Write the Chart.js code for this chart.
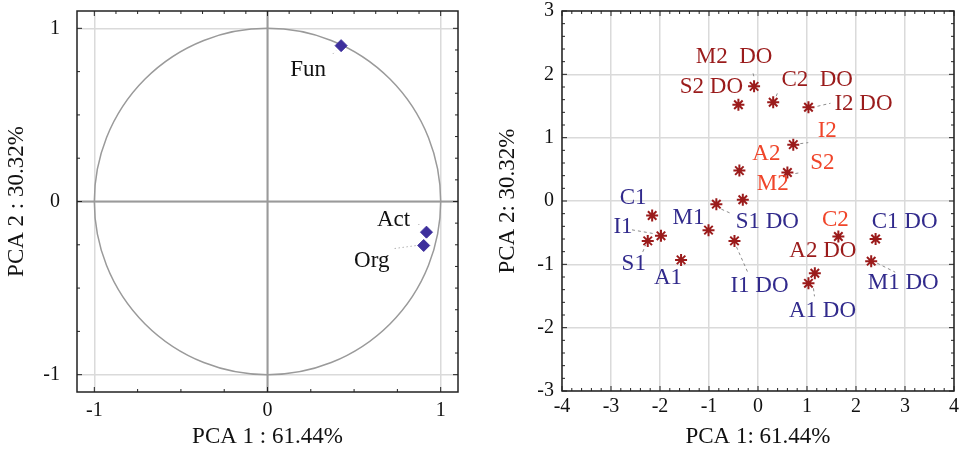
<!DOCTYPE html>
<html>
<head>
<meta charset="utf-8">
<script src="https://cdn.jsdelivr.net/npm/chart.js@4.4.1/dist/chart.umd.min.js"></script>
<style>
  html, body { margin: 0; padding: 0; background: #fff; }
  #left { position: absolute; left: 0; top: 0; width: 480px; height: 449px; }
  #right { position: absolute; left: 480px; top: 0; width: 484px; height: 449px; }
</style>
</head>
<body>
<div id="left"><canvas id="loadings"></canvas></div>
<div id="right"><canvas id="scores"></canvas></div>
<script>
// ---- loadings (left panel)
const loadingNames = ["Fun", "Act", "Org"];
const loadingPC1 = [0.425, 0.918, 0.902];
const loadingPC2 = [0.90, -0.177, -0.254];
const loadingTicks = [-1, 0, 1];

// ---- scores (right panel)
const sampleNames = [
  "M2  DO", "S2 DO", "C2  DO", "I2 DO", "I2", "A2", "S2", "M2", "S1 DO", "C1",
  "I1", "S1", "M1", "A1", "I1 DO", "C2", "C1 DO", "M1 DO", "A2 DO", "A1 DO"
];
const scorePC1 = [
  -0.08, -0.40, 0.31, 1.03, 0.72, -0.38, 0.60, -0.31, -0.85, -2.16,
  -1.98, -2.25, -1.01, -1.57, -0.48, 1.64, 2.40, 2.31, 1.16, 1.03
];
const scorePC2 = [
  1.81, 1.52, 1.56, 1.48, 0.89, 0.48, 0.45, 0.02, -0.05, -0.23,
  -0.55, -0.63, -0.46, -0.93, -0.63, -0.56, -0.60, -0.95, -1.14, -1.30
];
const sampleGroup = [
  "2DO", "2DO", "2DO", "2DO", "2", "2", "2", "2", "1", "1",
  "1", "1", "1", "1", "1", "2", "1", "1", "2DO", "1"
];
const scoreTicksX = [-4, -3, -2, -1, 0, 1, 2, 3, 4];
const scoreTicksY = [-3, -2, -1, 0, 1, 2, 3];

// ---- label placement (pixel offsets from the point) and leader lines
const loadingLabelOffset = [[-33, 24], [-33, -12], [-52, 15]];
const loadingLeader = [[-8, 8, -5, 5], [-8, -8, -6, -6], [-29, 3, -7, 0]];

const scoreLabelOffset = [
  [-20, -29], [-27, -18], [44, -22], [55, -3], [34, -14], [27, -17], [35, -10], [30, -16], [51, 18], [-19, -18],
  [-38, -9], [-14, 23], [-20, -12], [-13, 18], [25, 45], [-3, -17], [29, -17], [32, 22], [8, -22], [14, 28]
];
const scoreLeader = [
  [-1, -13, 0, -9], null, [3, -6, 5, -11], [9, -1, 22, -4], [7, -1, 15, -2], null, [8, 1, 14, 0], null, [5, 5, 14, 9], null,
  [-29, -6, -6, -2], [-5, 11, -2, 4], null, null, [2, 6, 14, 33], null, null, [6, 2, 24, 11], null, [5, 5, 6, 13]
];

const groupColor = { "1": "#312a8c", "2": "#f0452a", "2DO": "#9a1b1b" };
const SERIF = '"Liberation Serif", "Times New Roman", serif';
const INK = "#111";

// frame, inward ticks, reference circle, labels
const pcaDecor = {
  id: "pcaDecor",
  beforeDatasetsDraw(chart, args, opts) {
    if (!opts.circle) return;
    const { ctx, chartArea: a, scales: { x, y } } = chart;
    ctx.save();
    ctx.strokeStyle = "#9a9a9a";
    ctx.lineWidth = 2;
    ctx.beginPath();
    ctx.moveTo(x.getPixelForValue(0), a.top);
    ctx.lineTo(x.getPixelForValue(0), a.bottom);
    ctx.moveTo(a.left, y.getPixelForValue(0));
    ctx.lineTo(a.right, y.getPixelForValue(0));
    ctx.stroke();
    ctx.lineWidth = 1.5;
    ctx.beginPath();
    ctx.ellipse(x.getPixelForValue(0), y.getPixelForValue(0),
      x.getPixelForValue(1) - x.getPixelForValue(0),
      y.getPixelForValue(0) - y.getPixelForValue(1), 0, 0, Math.PI * 2);
    ctx.stroke();
    ctx.restore();
  },
  afterDatasetsDraw(chart, args, opts) {
    const { ctx, chartArea: a, scales: { x, y } } = chart;
    const meta = chart.getDatasetMeta(0);
    ctx.save();
    // leaders
    ctx.strokeStyle = "#8c8c8c";
    ctx.lineWidth = 1;
    ctx.setLineDash(opts.dash);
    meta.data.forEach((pt, i) => {
      const l = opts.leaders[i];
      if (!l) return;
      ctx.beginPath();
      ctx.moveTo(pt.x + l[0], pt.y + l[1]);
      ctx.lineTo(pt.x + l[2], pt.y + l[3]);
      ctx.stroke();
    });
    ctx.setLineDash([]);
    // labels
    ctx.font = "23px " + SERIF;
    ctx.textAlign = "center";
    ctx.textBaseline = "middle";
    meta.data.forEach((pt, i) => {
      ctx.fillStyle = opts.colors[i];
      ctx.fillText(opts.names[i], pt.x + opts.offsets[i][0], pt.y + opts.offsets[i][1]);
    });
    // frame
    ctx.strokeStyle = "#222";
    ctx.lineWidth = 1.5;
    ctx.strokeRect(a.left, a.top, a.right - a.left, a.bottom - a.top);
    // inward ticks
    ctx.lineWidth = 1;
    const sides = opts.minor;
    const tickRun = (scale, step, major, draw) => {
      const i0 = Math.ceil(scale.min / step - 1e-9), i1 = Math.floor(scale.max / step + 1e-9);
      for (let i = i0; i <= i1; i++) {
        const v = i * step;
        const isMajor = major.some(m => Math.abs(m - v) < 1e-9);
        draw(scale.getPixelForValue(v), isMajor ? 5 : 3);
      }
    };
    ctx.beginPath();
    tickRun(x, sides.bottom, opts.majorX, (p, len) => { ctx.moveTo(p, a.bottom); ctx.lineTo(p, a.bottom - len); });
    tickRun(x, sides.top, opts.majorX, (p, len) => { ctx.moveTo(p, a.top); ctx.lineTo(p, a.top + len); });
    tickRun(y, sides.left, opts.majorY, (p, len) => { ctx.moveTo(a.left, p); ctx.lineTo(a.left + len, p); });
    tickRun(y, sides.right, opts.majorY, (p, len) => { ctx.moveTo(a.right, p); ctx.lineTo(a.right - len, p); });
    ctx.stroke();
    ctx.restore();
  }
};

function axis(min, max, tickValues, fitSize, tickPad, titleText, titlePad) {
  return {
    type: "linear",
    min: min,
    max: max,
    afterBuildTicks: (s) => { s.ticks = tickValues.map(v => ({ value: v })); },
    afterFit: (s) => {
      if (s.isHorizontal()) s.height = fitSize; else s.width = fitSize;
      s.paddingTop = 0; s.paddingBottom = 0; s.paddingLeft = 0; s.paddingRight = 0;
    },
    grid: { color: "#dadada", lineWidth: 1.5, drawTicks: false },
    border: { display: false },
    ticks: { padding: tickPad, color: INK, font: { family: SERIF, size: 20, lineHeight: 1.2 } },
    title: {
      display: true,
      text: titleText,
      color: INK,
      padding: titlePad,
      font: { family: SERIF, size: 23, lineHeight: 1.2 }
    }
  };
}

new Chart(document.getElementById("loadings"), {
  type: "scatter",
  data: {
    datasets: [{
      data: loadingPC1.map((v, i) => ({ x: v, y: loadingPC2[i] })),
      pointStyle: "rectRot",
      pointRadius: 6,
      backgroundColor: "#3d2f9c",
      borderColor: "#3d2f9c",
      borderWidth: 1
    }]
  },
  options: {
    responsive: true,
    maintainAspectRatio: false,
    animation: false,
    layout: { padding: { top: 11, right: 22, left: 0, bottom: 0 } },
    scales: {
      x: axis(-1.1, 1.1, loadingTicks, 57, 7, "PCA 1 : 61.44%", { top: 0, bottom: -2 }),
      y: axis(-1.1, 1.1, loadingTicks, 77, 17, "PCA 2 : 30.32%", { top: 3, bottom: 0 })
    },
    plugins: {
      legend: { display: false },
      tooltip: { enabled: false },
      pcaDecor: {
        circle: true,
        names: loadingNames,
        offsets: loadingLabelOffset,
        leaders: loadingLeader,
        dash: [1, 3],
        colors: loadingNames.map(() => INK),
        minor: { bottom: 0.25, top: 0.125, left: 0.25, right: 0.125 },
        majorX: loadingTicks,
        majorY: loadingTicks
      }
    }
  },
  plugins: [pcaDecor]
});

new Chart(document.getElementById("scores"), {
  type: "scatter",
  data: {
    datasets: [{
      data: scorePC1.map((v, i) => ({ x: v, y: scorePC2[i] })),
      pointStyle: "star",
      pointRadius: 6,
      borderColor: "#9b1b1b",
      backgroundColor: "#9b1b1b",
      borderWidth: 2
    }]
  },
  options: {
    responsive: true,
    maintainAspectRatio: false,
    animation: false,
    layout: { padding: { top: 11, right: 10, left: 0, bottom: 0 } },
    scales: {
      x: axis(-4, 4, scoreTicksX, 58, 4, "PCA 1: 61.44%", { top: 0, bottom: -2 }),
      y: axis(-3, 3, scoreTicksY, 82, 8, "PCA 2: 30.32%", { top: 14, bottom: 0 })
    },
    plugins: {
      legend: { display: false },
      tooltip: { enabled: false },
      pcaDecor: {
        circle: false,
        names: sampleNames,
        offsets: scoreLabelOffset,
        leaders: scoreLeader,
        dash: [3, 3],
        colors: sampleGroup.map(g => groupColor[g]),
        minor: { bottom: 0.2, top: 0.2, left: 0.2, right: 0.2 },
        majorX: scoreTicksX,
        majorY: scoreTicksY
      }
    }
  },
  plugins: [pcaDecor]
});
</script>
</body>
</html>
